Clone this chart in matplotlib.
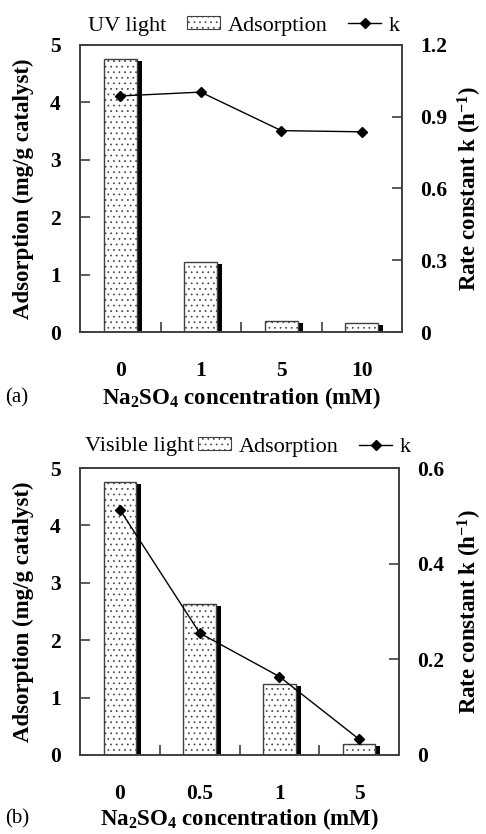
import matplotlib
matplotlib.use("Agg")
import matplotlib.pyplot as plt
from matplotlib.patches import Rectangle
from matplotlib.lines import Line2D
from matplotlib.transforms import ScaledTranslation

plt.rcParams['font.family'] = ['Liberation Serif', 'DejaVu Serif']
plt.rcParams['mathtext.fontset'] = 'custom'
plt.rcParams['mathtext.rm'] = 'Liberation Serif:bold'
plt.rcParams['mathtext.default'] = 'rm'
plt.rcParams['hatch.color'] = '#909090'
plt.rcParams['hatch.linewidth'] = 0.5

# ---- data ----
conc_uv = ['0', '1', '5', '10']
ads_uv = [4.76, 1.22, 0.20, 0.15]
k_uv = [0.987, 1.003, 0.842, 0.837]

conc_vis = ['0', '0.5', '1', '5']
ads_vis = [4.76, 2.63, 1.24, 0.19]
k_vis = [0.513, 0.255, 0.164, 0.033]

k_ticks_uv = [0, 0.3, 0.6, 0.9, 1.2]
k_ticklabels_uv = ['0', '0.3', '0.6', '0.9', '1.2']
k_ticks_vis = [0, 0.2, 0.4, 0.6]
k_ticklabels_vis = ['0', '0.2', '0.4', '0.6']
ads_ticks = [0, 1, 2, 3, 4, 5]

W, H = 486, 834
fig = plt.figure(figsize=(W / 100, H / 100), dpi=100)

SPINE = '#404040'
TICK_FS = 15.5
LABEL_FS = 16.5
LEG_FS = 16


def px(x0, y0, x1, y1):
    return [x0 / W, 1 - y1 / H, (x1 - x0) / W, (y1 - y0) / H]


def panel(rect, cats, ads, kvals, kmax, kticks, kticklabels, light, light_x,
          patch_x, leg_y, tag, xlabel_y):
    ax = fig.add_axes(rect)
    x = list(range(len(cats)))
    bw = 0.41
    # shadow bars (offset copy drawn behind)
    off = ScaledTranslation(5 / 100, -2 / 100, fig.dpi_scale_trans)
    sh = ax.bar(x, ads, bw, color='black', edgecolor='black', linewidth=0,
                zorder=1)
    for p in sh:
        p.set_transform(ax.transData + off)
    # main bars
    ax.bar(x, ads, bw, color='white', edgecolor=SPINE, linewidth=1.0,
           hatch='...', zorder=2)
    ax.set_xlim(-0.5, len(cats) - 0.5)
    ax.set_ylim(0, 5)
    ax.set_yticks(ads_ticks)
    ax.set_yticklabels([str(t) for t in ads_ticks])
    ax.set_xticks(x)
    ax.set_xticklabels(cats)
    ax.set_xticks([i + 0.5 for i in x[:-1]], minor=True)
    ax.tick_params(axis='x', which='major', length=0, pad=21,
                   labelsize=TICK_FS)
    ax.tick_params(axis='x', which='minor', direction='in', length=7,
                   color=SPINE, width=1.2)
    ax.tick_params(axis='y', direction='in', length=7, color=SPINE, width=1.2,
                   pad=14, labelsize=TICK_FS)
    for lab in ax.get_xticklabels() + ax.get_yticklabels():
        lab.set_fontweight('bold')
    for s in ax.spines.values():
        s.set_color(SPINE)
        s.set_linewidth(1.2)

    ax2 = ax.twinx()
    ax2.plot(x, kvals, color='black', marker='D', markersize=5, linewidth=1.0,
             zorder=5)
    ax2.set_ylim(0, kmax)
    ax2.set_yticks(kticks)
    ax2.set_yticklabels(kticklabels)
    ax2.tick_params(axis='y', direction='in', length=7, color=SPINE, width=1.2,
                    pad=13, labelsize=TICK_FS)
    for lab in ax2.get_yticklabels():
        lab.set_fontweight('bold')
    for s in ax2.spines.values():
        s.set_color(SPINE)
        s.set_linewidth(1.2)

    # labels
    x0, y0 = rect[0] * W, (1 - rect[1] - rect[3]) * H
    x1, y1 = x0 + rect[2] * W, y0 + rect[3] * H
    yc = 1 - ((y0 + y1) / 2) / H
    fig.text(23 / W, yc, 'Adsorption (mg/g catalyst)', rotation=90,
             ha='center', va='center', fontsize=LABEL_FS, fontweight='bold')
    fig.text(470 / W, yc, 'Rate constant k (h$^{-1}$)', rotation=90,
             ha='center', va='center', fontsize=LABEL_FS, fontweight='bold')
    fig.text(((x0 + x1) / 2) / W, 1 - xlabel_y / H,
             'Na$_2$SO$_4$ concentration (mM)', ha='center', va='center',
             fontsize=LABEL_FS, fontweight='bold')
    fig.text(5 / W, 1 - xlabel_y / H, tag, ha='left', va='center', fontsize=15)

    # legend
    fig.text(light_x / W, 1 - leg_y / H, light, ha='left', va='center',
             fontsize=LEG_FS)
    handles = [Rectangle((0, 0), 1, 1, facecolor='white', edgecolor=SPINE,
                         linewidth=0.8, hatch='...'),
               Line2D([], [], color='black', marker='D', markersize=5,
                      linewidth=1.0)]
    fig.legend(handles, ['Adsorption', 'k'], loc='center left',
               bbox_to_anchor=(patch_x / W, 1 - leg_y / H),
               bbox_transform=fig.transFigure, ncol=2, frameon=False,
               fontsize=LEG_FS, handlelength=1.5, handleheight=0.5,
               handletextpad=0.35, columnspacing=0.9, borderpad=0,
               borderaxespad=0)
    return ax, ax2


panel(px(80, 45, 402, 332), conc_uv, ads_uv, k_uv, 1.2, k_ticks_uv,
      k_ticklabels_uv, 'UV light', 88, 187, 26, '(a)', 398)
panel(px(80, 468, 399, 755), conc_vis, ads_vis, k_vis, 0.6, k_ticks_vis,
      k_ticklabels_vis, 'Visible light', 85, 198, 447, '(b)', 819)

fig.savefig('out.png', dpi=100)
